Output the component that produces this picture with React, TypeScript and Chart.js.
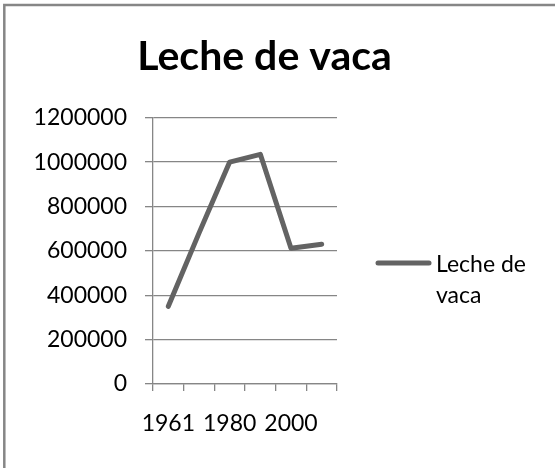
import React, { useEffect, useRef } from "react";
import { Chart, registerables } from "chart.js";

Chart.register(...registerables);

const chartTitle = "Leche de vaca";
const seriesName = "Leche de vaca";
const years = ["1961", "1970", "1980", "1990", "2000", "2007"];
const shownYearLabels = ["1961", "1980", "2000"];
const milkProduction = [350000, 680000, 1000000, 1035000, 612000, 630000];
const yMin = 0;
const yMax = 1200000;
const yStep = 200000;

const FONT = "Lato, 'Open Sans', sans-serif";
const GRID = "#868686";
const LINE = "#636363";

const frameTitleLegend = {
  id: "frameTitleLegend",
  beforeDraw(chart: any) {
    const ctx = chart.ctx;
    ctx.save();
    ctx.fillStyle = "#ffffff";
    ctx.fillRect(0, 0, chart.width, chart.height);
    ctx.strokeStyle = GRID;
    ctx.lineWidth = 2.5;
    ctx.strokeRect(4.3, 5, chart.width + 20, chart.height + 20);
    ctx.restore();
  },
  afterDraw(chart: any) {
    const ctx = chart.ctx;
    const ds = chart.data.datasets[0];
    ctx.save();
    // title
    ctx.fillStyle = "#000000";
    ctx.font = `bold 41px ${FONT}`;
    ctx.textAlign = "center";
    ctx.textBaseline = "alphabetic";
    ctx.fillText(chartTitle, 264.5, 70);
    // legend
    const words = String(ds.label).split(" ");
    const lines = [words.slice(0, words.length - 1).join(" "), words[words.length - 1]];
    ctx.strokeStyle = ds.borderColor;
    ctx.lineWidth = 5;
    ctx.lineCap = "round";
    ctx.beginPath();
    ctx.moveTo(378, 263);
    ctx.lineTo(429, 263);
    ctx.stroke();
    ctx.font = `23px ${FONT}`;
    ctx.textAlign = "left";
    ctx.fillText(lines[0], 436, 271.5);
    ctx.fillText(lines[1], 436, 303);
    ctx.restore();
  },
};

export default function App() {
  const ref = useRef<HTMLCanvasElement | null>(null);
  useEffect(() => {
    if (!ref.current) return;
    const chart = new Chart(ref.current, {
      type: "line",
      data: {
        labels: years,
        datasets: [
          {
            label: seriesName,
            data: milkProduction,
            borderColor: LINE,
            backgroundColor: LINE,
            borderWidth: 5,
            borderCapStyle: "round",
            borderJoinStyle: "round",
            pointRadius: 0,
            pointHoverRadius: 0,
            tension: 0,
            fill: false,
          },
        ],
      },
      options: {
        responsive: false,
        animation: false,
        devicePixelRatio: 1,
        events: [],
        layout: { padding: { left: 34, right: 218, top: 117.7, bottom: 24 } },
        plugins: {
          legend: { display: false },
          tooltip: { enabled: false },
          title: { display: false },
        },
        scales: {
          x: {
            type: "category",
            offset: true,
            grid: {
              offset: true,
              drawOnChartArea: false,
              drawTicks: true,
              tickLength: 7,
              color: GRID,
              lineWidth: 1.3,
            },
            border: { display: true, color: GRID, width: 1.3 },
            ticks: {
              autoSkip: false,
              maxRotation: 0,
              minRotation: 0,
              padding: 19,
              color: "#000000",
              font: { family: FONT, size: 23 },
              callback: (_v: any, i: number) =>
                shownYearLabels.includes(years[i]) ? years[i] : "",
            },
            afterFit: (s: any) => {
              s.height = 60;
            },
          },
          y: {
            min: yMin,
            max: yMax,
            grid: {
              drawOnChartArea: true,
              drawTicks: true,
              tickLength: 8,
              color: GRID,
              lineWidth: 1.3,
            },
            border: { display: true, color: GRID, width: 1.3 },
            ticks: {
              stepSize: yStep,
              padding: 18,
              color: "#000000",
              font: { family: FONT, size: 23 },
              callback: (v: any) => String(v),
            },
            afterFit: (s: any) => {
              s.width = 119;
            },
          },
        },
      },
      plugins: [frameTitleLegend],
    });
    return () => chart.destroy();
  }, []);
  return (
    <canvas
      ref={ref}
      width={555}
      height={468}
      style={{ position: "fixed", left: 0, top: 0, width: 555, height: 468 }}
    />
  );
}
